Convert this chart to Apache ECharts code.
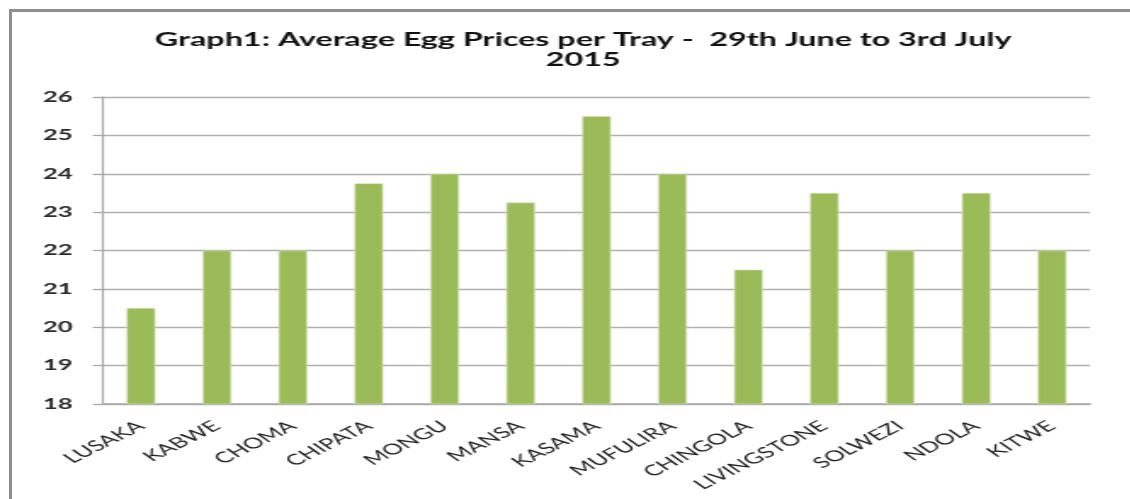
<!DOCTYPE html>
<html>
<head>
<meta charset="utf-8">
<script src="https://cdn.jsdelivr.net/npm/echarts@6/dist/echarts.min.js"></script>
<style>
  html, body { margin: 0; padding: 0; background: #fff; overflow: hidden; }
  /* the source picture is stretched sideways, so the chart is drawn narrow and widened */
  #main { width: 665px; height: 499px; position: absolute; left: 0; top: 0;
          transform: scaleX(1.7); transform-origin: 0 0; }
  #frame { position: absolute; left: 9px; top: 9px; width: 1130px; height: 499px;
           border-left: 3px solid #8e8e8e; border-top: 3px solid #8e8e8e; pointer-events: none; }
</style>
</head>
<body>
<div id="main"></div>
<div id="frame"></div>
<script>
// cities along the x axis
var cities = ['LUSAKA', 'KABWE', 'CHOMA', 'CHIPATA', 'MONGU', 'MANSA', 'KASAMA',
              'MUFULIRA', 'CHINGOLA', 'LIVINGSTONE', 'SOLWEZI', 'NDOLA', 'KITWE'];
// average price per tray
var prices = [20.5, 22, 22, 23.75, 24, 23.25, 25.5, 24, 21.5, 23.5, 22, 23.5, 22];
var titleText = 'Graph1: Average Egg Prices per Tray -  29th June to 3rd July\n2015';

var chart = echarts.init(document.getElementById('main'));
chart.setOption({
    animation: false,
    title: {
        text: titleText,
        left: 338,
        textAlign: 'center',
        top: 25,
        textStyle: { fontFamily: 'Lato', fontWeight: 'bold', fontSize: 19, color: '#111', lineHeight: 20 }
    },
    grid: { left: 60.6, right: 23.8, top: 97, bottom: 95 },
    xAxis: {
        type: 'category',
        data: cities,
        axisLine: { lineStyle: { color: '#a6a6a6', width: 1.5 } },
        axisTick: { show: false },
        axisLabel: { rotate: 40, margin: 20, fontFamily: 'Lato', fontSize: 15, color: '#222', interval: 0 }
    },
    yAxis: {
        type: 'value',
        min: 18,
        max: 26,
        interval: 1,
        axisLine: { show: true, lineStyle: { color: '#a6a6a6', width: 1.2 } },
        axisTick: { show: true, length: 6, lineStyle: { color: '#a6a6a6', width: 1.3 } },
        axisLabel: { margin: 18, fontFamily: 'Lato', fontWeight: 'bold', fontSize: 15, color: '#2a2a2a' },
        splitLine: { lineStyle: { color: '#b0b0b0', width: 1.3 } }
    },
    series: [{
        type: 'bar',
        data: prices,
        barWidth: '38%',
        itemStyle: { color: '#9bbb59', borderColor: '#d7e4bd', borderWidth: 0.6 }
    }]
});
</script>
</body>
</html>
